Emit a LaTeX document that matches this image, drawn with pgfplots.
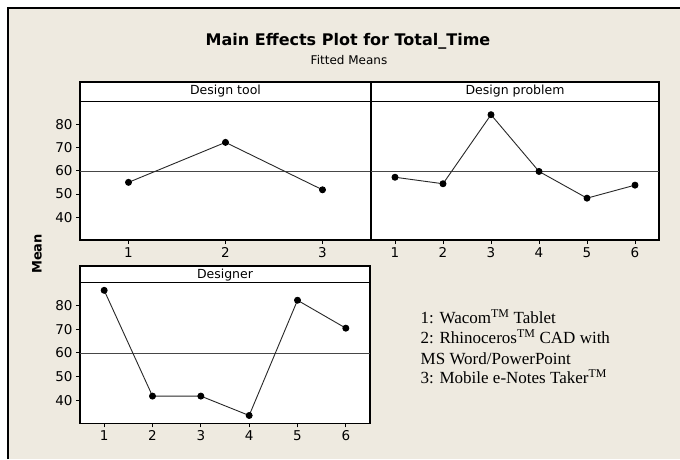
\documentclass[border=0pt]{standalone}
\usepackage{pgfplots}
\pgfplotsset{compat=1.18}
\usepackage{fontspec}
\setmainfont{DejaVu Sans}
\newfontfamily\legfont{Liberation Serif}
\definecolor{bgc}{RGB}{238,234,224}
\definecolor{linec}{RGB}{40,40,40}
\definecolor{meanc}{RGB}{70,70,70}

\pgfplotsset{
  panel/.style={
    scale only axis,
    axis background/.style={fill=white},
    axis line style={black, line width=1.1pt},
    ymin=30.2, ymax=89.7,
    ytick={40,50,60,70,80},
    tick align=outside,
    major tick length=4pt,
    tick style={black, line width=0.8pt},
    xtick pos=bottom, ytick pos=left,
    tick label style={font=\fontsize{13.5}{15}\selectfont},
    /pgf/number format/assume math mode=true,
  },
  dataline/.style={linec, line width=0.9pt, mark=*, mark size=3pt, mark options={fill=black, draw=black}},
  meanline/.style={meanc, line width=1.1pt, no marks},
}

\begin{document}
\begin{tikzpicture}
\path[use as bounding box] (0pt,0pt) rectangle (680pt,459pt);
\fill[white] (0pt,0pt) rectangle (680pt,459pt);
\fill[bgc] (8pt,0pt) rectangle (680pt,451pt);
\draw[black, line width=2pt] (8pt,0pt) -- (8pt,451pt) -- (680pt,451pt);

% Titles
\node[anchor=base, font=\bfseries\fontsize{16}{18}\selectfont] at (348pt,413.3pt) {Main Effects Plot for Total\_Time};
\node[anchor=base, font=\fontsize{12}{14}\selectfont] at (349pt,395pt) {Fitted Means};
\node[rotate=90, font=\bfseries\fontsize{13}{15}\selectfont] at (37pt,205pt) {Mean};

% Panel 1: Design tool
\begin{axis}[panel, at={(80pt,219pt)}, anchor=south west, width=291pt, height=138.3pt,
  xmin=0.5, xmax=3.5, xtick={1,2,3}]
\addplot[meanline] coordinates {(0.5,59.8) (3.5,59.8)};
\addplot[dataline] coordinates {(1,55.0) (2,72.2) (3,51.8)};
\end{axis}

% Panel 2: Design problem
\begin{axis}[panel, at={(371pt,219pt)}, anchor=south west, width=288pt, height=138.3pt,
  xmin=0.5, xmax=6.5, xtick={1,2,3,4,5,6}, ytick=\empty]
\addplot[meanline] coordinates {(0.5,59.8) (6.5,59.8)};
\addplot[dataline] coordinates {(1,57.2) (2,54.4) (3,84.1) (4,59.7) (5,48.2) (6,53.8)};
\end{axis}

% Panel 3: Designer
\begin{axis}[panel, at={(80pt,35.7pt)}, anchor=south west, width=290pt, height=140.8pt,
  xmin=0.5, xmax=6.5, xtick={1,2,3,4,5,6}]
\addplot[meanline] coordinates {(0.5,59.8) (6.5,59.8)};
\addplot[dataline] coordinates {(1,86.4) (2,41.7) (3,41.7) (4,33.5) (5,82.2) (6,70.4)};
\end{axis}

% Strips
\draw[black, line width=1.1pt, fill=white] (80pt,357.3pt) rectangle (371pt,377pt);
\node[anchor=base, font=\fontsize{12.5}{14}\selectfont] at (225.5pt,364pt) {Design tool};
\draw[black, line width=1.1pt, fill=white] (371pt,357.3pt) rectangle (659pt,377pt);
\node[anchor=base, font=\fontsize{12.5}{14}\selectfont] at (515pt,364pt) {Design problem};
\draw[black, line width=1.1pt, fill=white] (80pt,176.5pt) rectangle (370pt,193pt);
\node[anchor=base, font=\fontsize{12.5}{14}\selectfont] at (225pt,180.7pt) {Designer};

% Legend text
\begin{scope}[every node/.style={anchor=base west, inner sep=0pt, font=\legfont\fontsize{17}{20}\selectfont}]
\node at (420.5pt,135.7pt) {1: Wacom\textsuperscript{TM} Tablet};
\node at (420.5pt,115.7pt) {2: Rhinoceros\textsuperscript{TM} CAD with};
\node at (420.5pt,95pt) {MS Word/PowerPoint};
\node at (420.5pt,75.7pt) {3: Mobile e-Notes Taker\textsuperscript{TM}};
\end{scope}
\end{tikzpicture}
\end{document}
